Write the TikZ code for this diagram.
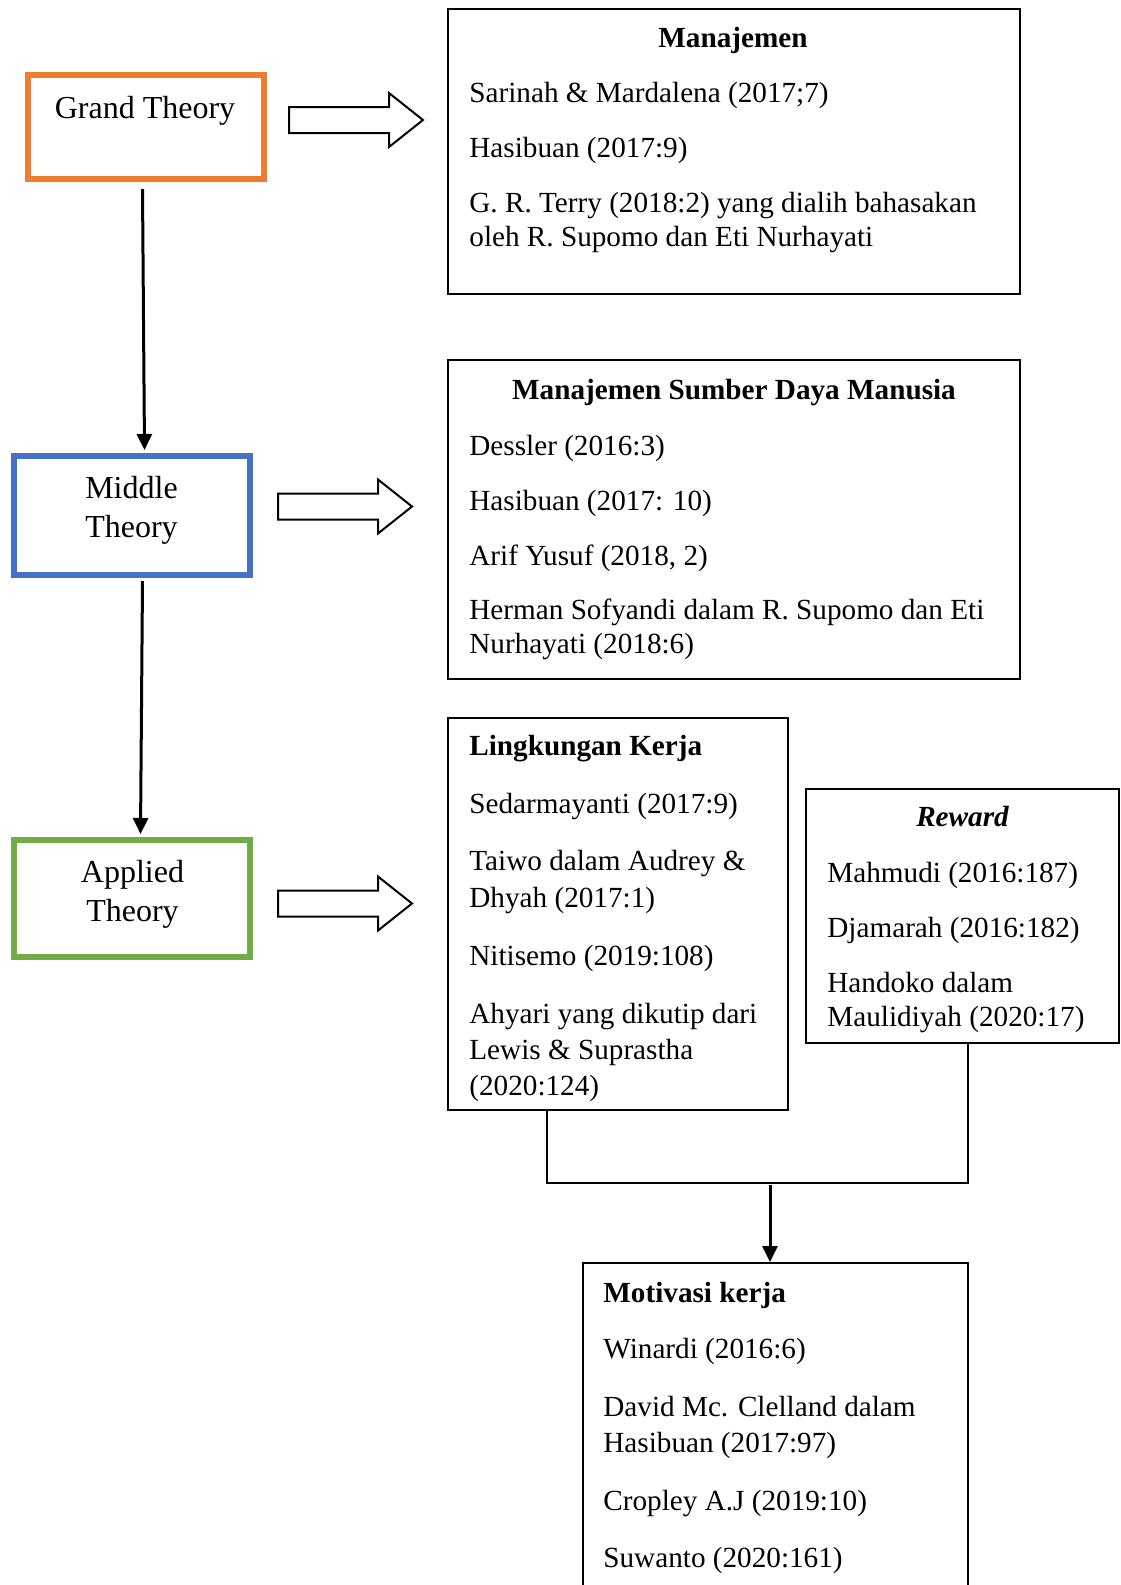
\documentclass[tikz,border=0pt]{standalone}
\usepackage{fontspec}
\setmainfont{Liberation Serif}
\usetikzlibrary{fit,arrows.meta}
\definecolor{gorange}{HTML}{ED7D31}
\definecolor{gblue}{HTML}{4472C4}
\definecolor{ggreen}{HTML}{70AD47}
\tikzset{
  theorybox/.style={draw, line width=3pt, inner sep=0pt},
  refbox/.style={draw, line width=1pt, inner sep=0pt},
  txt/.style={anchor=base west, inner sep=0pt, font=\fontsize{14.6}{17.5}\selectfont},
  ctxt/.style={anchor=base, inner sep=0pt, font=\fontsize{14.6}{17.5}\selectfont},
  ttxt/.style={anchor=base, inner sep=0pt, font=\fontsize{16}{19}\selectfont},
  arr/.style={line width=1.5pt, -{Triangle[length=8pt,width=7.5pt]}},
  conn/.style={line width=0.9pt},
  blockarrow/.pic={\draw[line width=1pt, fill=white] (0,-13) -- (100,-13) -- (100,-27) -- (134,0) -- (100,27) -- (100,13) -- (0,13) -- cycle;}
}
\begin{document}
\begin{tikzpicture}[x=0.5pt,y=-0.5pt]
\useasboundingbox (0,0) rectangle (1120,1585);
\clip (0,0) rectangle (1120,1585);
\fill[white] (0,0) rectangle (1120,1585);

% theory boxes
\node[theorybox, draw=gorange, fit={(28,75) (264,179)}] (grand) {};
\node[theorybox, draw=gblue, fit={(14,456) (250,575)}] (middle) {};
\node[theorybox, draw=ggreen, fit={(14,840) (250,957)}] (applied) {};
\node[ttxt] (gt) at (145,118) {Grand Theory};
\node[ttxt] (mt1) at (131.5,498) {Middle};
\node[ttxt] (mt2) at (131.5,537) {Theory};
\node[ttxt] (at1) at (132.5,882) {Applied};
\node[ttxt] (at2) at (132.5,921) {Theory};

% vertical arrows
\draw[arr] ([xshift=-1.75pt,yshift=-3.5pt]grand.south) -- ([xshift=6.25pt,yshift=1.5pt]middle.north);
\draw[arr] ([xshift=5.25pt,yshift=-1.5pt]middle.south) -- ([xshift=4.25pt,yshift=1.5pt]applied.north);

% block arrows
\pic at (289,120) {blockarrow};
\pic at (278,506.5) {blockarrow};
\pic at (278,903.5) {blockarrow};

% Manajemen
\node[refbox, fit={(448,9) (1020,294)}] (man) {};
\node[ctxt, font=\fontsize{14.6}{17.5}\selectfont\bfseries] (manT) at (733,47) {Manajemen};
\node[txt] (man1) at (469,102) {Sarinah \& Mardalena (2017;7)};
\node[txt] (man2) at (469,157) {Hasibuan (2017:9)};
\node[txt] (man3) at (469,212) {G. R. Terry (2018:2) yang dialih bahasakan};
\node[txt] (man4) at (469,246) {oleh R. Supomo dan Eti Nurhayati};

% MSDM
\node[refbox, fit={(448,360) (1020,679)}] (msdm) {};
\node[ctxt, font=\fontsize{14.6}{17.5}\selectfont\bfseries] (msdmT) at (734,399) {Manajemen Sumber Daya Manusia};
\node[txt] (msdm1) at (469,455) {Dessler (2016:3)};
\node[txt] (msdm2) at (469,510) {Hasibuan (2017: 10)};
\node[txt] (msdm3) at (469,565) {Arif Yusuf (2018, 2)};
\node[txt] (msdm4) at (469,619) {Herman Sofyandi dalam R. Supomo dan Eti};
\node[txt] (msdm5) at (469,653) {Nurhayati (2018:6)};

% Lingkungan Kerja
\node[refbox, fit={(448,718) (788,1110)}] (lk) {};
\node[txt, font=\fontsize{14.6}{17.5}\selectfont\bfseries] (lkT) at (469,755) {Lingkungan Kerja};
\node[txt] (lk1) at (469,813) {Sedarmayanti (2017:9)};
\node[txt] (lk2) at (469,870) {Taiwo dalam Audrey \&};
\node[txt] (lk3) at (469,907) {Dhyah (2017:1)};
\node[txt] (lk4) at (469,965) {Nitisemo (2019:108)};
\node[txt] (lk5) at (469,1023) {Ahyari yang dikutip dari};
\node[txt] (lk6) at (469,1059) {Lewis \& Suprastha};
\node[txt] (lk7) at (469,1095) {(2020:124)};

% Reward
\node[refbox, fit={(806,789) (1119,1043)}] (rew) {};
\node[ctxt, font=\fontsize{14.6}{17.5}\selectfont\bfseries\itshape] (rewT) at (962.5,826) {Reward};
\node[txt] (rew1) at (827,882) {Mahmudi (2016:187)};
\node[txt] (rew2) at (827,937) {Djamarah (2016:182)};
\node[txt] (rew3) at (827,992) {Handoko dalam};
\node[txt] (rew4) at (827,1026) {Maulidiyah (2020:17)};

% Motivasi
\node[refbox, fit={(583,1263) (968,1620)}] (mot) {};
\node[txt, font=\fontsize{14.6}{17.5}\selectfont\bfseries] (motT) at (603,1302) {Motivasi kerja};
\node[txt] (mot1) at (603,1358) {Winardi (2016:6)};
\node[txt] (mot2) at (603,1416) {David Mc. Clelland dalam};
\node[txt] (mot3) at (603,1452) {Hasibuan (2017:97)};
\node[txt] (mot4) at (603,1510) {Cropley A.J (2019:10)};
\node[txt] (mot5) at (603,1567) {Suwanto (2020:161)};

% connectors
\coordinate (jl) at (547,1183);
\coordinate (jr) at (968,1183);
\coordinate (jm) at (770,1185);
\draw[conn] (jl |- lk.south) -- (jl) -- (jr) -- (jr |- rew.south);
\draw[arr] (jm) -- (jm |- mot.north);
\end{tikzpicture}
\end{document}
